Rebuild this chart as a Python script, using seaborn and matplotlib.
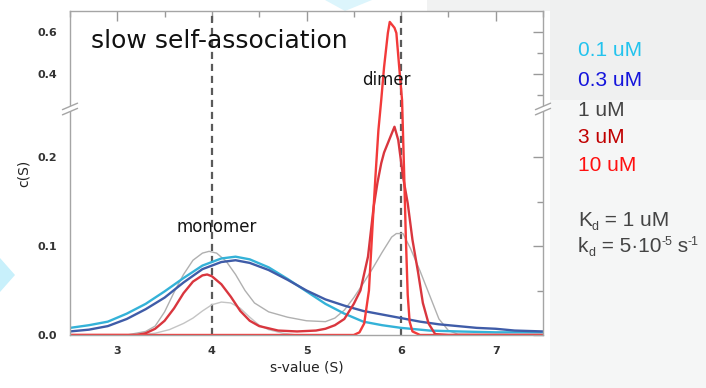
import numpy as np
import pandas as pd
import matplotlib
matplotlib.use("Agg")
import matplotlib.pyplot as plt
from matplotlib.patches import Rectangle, Polygon
from matplotlib.ticker import FixedLocator, FixedFormatter
import seaborn as sns

# ---------------- data ----------------
s_01 = [2.5, 2.7, 2.9, 3.1, 3.3, 3.5, 3.7, 3.9, 4.1, 4.25, 4.4, 4.6, 4.8, 5.0, 5.2, 5.4, 5.6, 5.8, 6.0, 6.3, 6.6, 7.0, 7.5]
c_01 = [0.008, 0.011, 0.015, 0.024, 0.035, 0.049, 0.064, 0.078, 0.086, 0.088, 0.085, 0.076, 0.063, 0.049, 0.035, 0.024, 0.015, 0.011, 0.008, 0.005, 0.004, 0.003, 0.003]

s_03 = [2.5, 2.7, 2.9, 3.1, 3.3, 3.5, 3.7, 3.9, 4.1, 4.25, 4.4, 4.6, 4.8, 5.0, 5.2, 5.4, 5.6, 5.8, 6.0, 6.2, 6.4, 6.6, 6.8, 7.0, 7.2, 7.5]
c_03 = [0.004, 0.006, 0.010, 0.018, 0.029, 0.042, 0.059, 0.074, 0.082, 0.084, 0.081, 0.073, 0.062, 0.050, 0.040, 0.033, 0.027, 0.023, 0.019, 0.015, 0.012, 0.010, 0.008, 0.007, 0.005, 0.004]

s_1 = [2.5, 3.1, 3.3, 3.4, 3.5, 3.6, 3.7, 3.8, 3.9, 3.97, 4.05, 4.15, 4.25, 4.35, 4.45, 4.6, 4.8, 5.0, 5.2, 5.3, 5.4, 5.5, 5.6, 5.7, 5.8, 5.9, 5.95, 6.02, 6.1, 6.2, 6.3, 6.4, 6.5, 6.6, 7.5]
c_1 = [0.0, 0.0, 0.004, 0.010, 0.026, 0.048, 0.068, 0.084, 0.092, 0.094, 0.092, 0.083, 0.068, 0.050, 0.036, 0.026, 0.020, 0.016, 0.015, 0.019, 0.028, 0.042, 0.058, 0.075, 0.093, 0.110, 0.114, 0.114, 0.097, 0.072, 0.045, 0.018, 0.005, 0.001, 0.0]

s_1b = [2.5, 3.2, 3.4, 3.55, 3.7, 3.8, 3.9, 4.0, 4.1, 4.2, 4.3, 4.4, 4.5, 4.6, 4.75, 4.9]
c_1b = [0.0, 0.0, 0.002, 0.006, 0.013, 0.019, 0.027, 0.034, 0.037, 0.036, 0.030, 0.020, 0.011, 0.006, 0.002, 0.0]

s_3 = [2.5, 3.2, 3.3, 3.4, 3.5, 3.6, 3.7, 3.8, 3.9, 3.95, 4.0, 4.1, 4.2, 4.3, 4.4, 4.5, 4.7, 4.9, 5.1, 5.2, 5.3, 5.4, 5.5, 5.57, 5.65, 5.71, 5.75, 5.79, 5.82, 5.93, 5.97, 6.02, 6.07, 6.12, 6.18, 6.23, 6.29, 6.36, 6.5, 7.5]
c_3 = [0.0, 0.0, 0.002, 0.007, 0.016, 0.030, 0.047, 0.060, 0.067, 0.068, 0.066, 0.057, 0.043, 0.027, 0.016, 0.010, 0.005, 0.004, 0.005, 0.007, 0.011, 0.018, 0.035, 0.050, 0.088, 0.144, 0.171, 0.193, 0.205, 0.234, 0.219, 0.178, 0.148, 0.107, 0.070, 0.036, 0.013, 0.001, 0.0, 0.0]

s_10 = [2.5, 5.5, 5.56, 5.61, 5.66, 5.70, 5.73, 5.76, 5.79, 5.82, 5.86, 5.88, 5.93, 5.95, 5.98, 6.01, 6.03, 6.05, 6.07, 6.09, 6.12, 6.2, 7.5]
c_10 = [0.0, 0.0, 0.003, 0.013, 0.050, 0.126, 0.180, 0.230, 0.276, 0.433, 0.595, 0.648, 0.620, 0.595, 0.433, 0.276, 0.190, 0.110, 0.045, 0.015, 0.004, 0.0, 0.0]

legend_labels = ["0.1 uM", "0.3 uM", "1 uM", "3 uM", "10 uM"]
legend_colors = ["#22c3ee", "#1414dc", "#444444", "#c00000", "#ff1010"]
x_ticks = [3, 4, 5, 6, 7]
y_ticks = [0.0, 0.1, 0.2, 0.4, 0.6]
y_tick_labels = ["0.0", "0.1", "0.2", "0.4", "0.6"]
y_minor = [0.05, 0.15, 0.3, 0.5]
ref_lines = [4, 6]

# ---------------- style ----------------
sns.set_theme(style="white")
plt.rcParams["font.family"] = ["DejaVu Sans"]

fig = plt.figure(figsize=(7.06, 3.88), dpi=100)
fig.patch.set_facecolor("white")
W, H = 706.0, 388.0

# slide background panels
fig.patches.append(Rectangle((550 / W, 0), 156 / W, 288 / H, transform=fig.transFigure,
                             facecolor="#f5f6f6", edgecolor="none", zorder=-10))
fig.patches.append(Rectangle((550 / W, 288 / H), 156 / W, 100 / H, transform=fig.transFigure,
                             facecolor="#eff0f0", edgecolor="none", zorder=-10))
fig.patches.append(Rectangle((427 / W, 377 / H), 123 / W, 11 / H, transform=fig.transFigure,
                             facecolor="#f1f2f2", edgecolor="none", zorder=-10))
fig.patches.append(Polygon([(0, 130 / H), (15 / W, 113 / H), (0, 96 / H)], closed=True,
                           transform=fig.transFigure, facecolor="#c8f0fb", edgecolor="none", zorder=-9))
fig.patches.append(Polygon([(325 / W, 1.0), (345 / W, 377 / H), (372 / W, 1.0)], closed=True,
                           transform=fig.transFigure, facecolor="#dcf5fc", edgecolor="none", zorder=-9))

ax = fig.add_axes([70 / W, 1 - 335 / H, 473 / W, 324 / H])
ax.set_facecolor("white")

# broken (piecewise linear) y scale
BRK = 0.25
GAP = 7 / 890.0
K = 210 / 890.0


def fwd(y):
    y = np.asarray(y, dtype=float)
    return np.where(y <= BRK, y, BRK + GAP + (y - BRK) * K)


def inv(t):
    t = np.asarray(t, dtype=float)
    return np.where(t <= BRK, t, np.where(t < BRK + GAP, BRK, BRK + (t - BRK - GAP) / K))


ax.set_yscale("function", functions=(fwd, inv))

series = [
    (s_1b, c_1b, "#c4c4c4", 1.0),
    (s_1, c_1, "#b0b0b0", 1.0),
    (s_01, c_01, "#34b2d8", 1.7),
    (s_03, c_03, "#3f5ca8", 1.7),
    (s_3, c_3, "#d9363e", 1.7),
    (s_10, c_10, "#f23a3a", 1.7),
]
for sv, cv, col, lw in series:
    df = pd.DataFrame({"s": sv, "c": cv})
    sns.lineplot(data=df, x="s", y="c", color=col, lw=lw, ax=ax, legend=False)

for xv in ref_lines:
    ax.axvline(xv, color="#5a5a5a", lw=1.6, ls=(0, (3.2, 2.2)), zorder=1)

ax.set_xlim(2.5, 7.5)
ax.set_ylim(0, 0.7)

ax.xaxis.set_major_locator(FixedLocator(x_ticks))
ax.xaxis.set_minor_locator(FixedLocator([2.5 + 0.5 * i for i in range(11)]))
ax.yaxis.set_major_locator(FixedLocator(y_ticks))
ax.yaxis.set_major_formatter(FixedFormatter(y_tick_labels))
ax.yaxis.set_minor_locator(FixedLocator(y_minor))

ax.tick_params(which="both", direction="in", top=True, right=True, color="#999999", width=1)
ax.tick_params(which="major", length=7)
ax.tick_params(which="minor", length=4.5)
ax.tick_params(axis="x", which="major", pad=8, labelsize=8, labelcolor="#333333")
ax.tick_params(axis="y", which="major", pad=9, labelsize=8, labelcolor="#333333")
for lab in ax.get_xticklabels() + ax.get_yticklabels():
    lab.set_fontweight("bold")

for sp in ax.spines.values():
    sp.set_color("#a5a5a5")
    sp.set_linewidth(1.0)

ax.set_xlabel("s-value (S)", fontsize=10, color="#222222", labelpad=3)
ax.set_ylabel("c(S)", fontsize=10, color="#222222", labelpad=5)

# axis break marks
yb = float(fwd(BRK)) + GAP / 2
yb = yb / float(fwd(0.7))
for xa in (0.0, 1.0):
    dx, dy, sep = 0.016, 0.010, 0.008
    ax.add_patch(Polygon([(xa - dx, yb - sep - dy), (xa + dx, yb - sep + dy),
                          (xa + dx, yb + sep + dy), (xa - dx, yb + sep - dy)],
                         closed=True, transform=ax.transAxes, facecolor="white",
                         edgecolor="none", clip_on=False, zorder=5))
    for off in (-sep, sep):
        ax.plot([xa - dx, xa + dx], [yb + off - dy, yb + off + dy], transform=ax.transAxes,
                color="#a5a5a5", lw=1.0, clip_on=False, zorder=6)

# annotations
fig.text(91 / W, 1 - 41 / H, "slow self-association", fontsize=18, color="#111111",
         ha="left", va="center")
fig.text(217 / W, 1 - 227 / H, "monomer", fontsize=12, color="#151515", ha="center", va="center")
fig.text(386 / W, 1 - 80 / H, "dimer", fontsize=12, color="#151515", ha="center", va="center")

# legend text on the side panel
leg_y = [50, 80, 111, 137, 165]
for lab, col, yy in zip(legend_labels, legend_colors, leg_y):
    fig.text(578 / W, 1 - yy / H, lab, fontsize=15, color=col, family="Liberation Sans",
             ha="left", va="center")

renderer = fig.canvas.get_renderer()


def rich_line(x0, base_y, pieces, color="#444444"):
    """pieces: (text, fontsize, vertical offset in px) drawn one after another."""
    x = x0
    for txt, fs, off in pieces:
        t = fig.text(x / W, (base_y + off) / H, txt, fontsize=fs, color=color,
                     family="Liberation Sans", ha="left", va="baseline")
        bb = t.get_window_extent(renderer)
        x = bb.x1


rich_line(578, H - 226, [("K", 15, 0), ("d", 9, -4), (" = 1 uM", 15, 0)])
rich_line(578, H - 252, [("k", 15, 0), ("d", 9, -4), (" = 5·10", 15, 0), ("-5", 9, 7),
                         (" s", 15, 0), ("-1", 9, 7)])

fig.savefig("out.png", dpi=100)
